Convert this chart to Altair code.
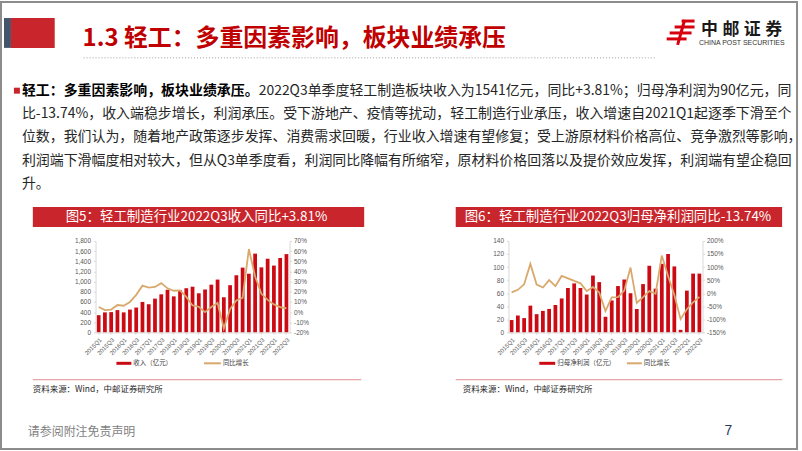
import altair as alt
import pandas as pd

# ---------------- data ----------------
quarters = ["2015Q1", "2015Q2", "2015Q3", "2015Q4", "2016Q1", "2016Q2", "2016Q3", "2016Q4",
            "2017Q1", "2017Q2", "2017Q3", "2017Q4", "2018Q1", "2018Q2", "2018Q3", "2018Q4",
            "2019Q1", "2019Q2", "2019Q3", "2019Q4", "2020Q1", "2020Q2", "2020Q3", "2020Q4",
            "2021Q1", "2021Q2", "2021Q3", "2021Q4", "2022Q1", "2022Q2", "2022Q3"]
tick_quarters = ["2015Q1", "2015Q3", "2016Q1", "2016Q3", "2017Q1", "2017Q3", "2018Q1", "2018Q3",
                 "2019Q1", "2019Q3", "2020Q1", "2020Q3", "2021Q1", "2021Q3", "2022Q1", "2022Q3"]
revenue = [340, 395, 400, 440, 395, 450, 490, 600, 555, 665, 750, 840, 710, 830, 870, 900,
           770, 845, 940, 1040, 690, 930, 1125, 1275, 1155, 1550, 1280, 1450, 1315, 1465, 1541]
revenue_yoy = [5, 2, 2.5, 7, 6.3, 10, 17, 26, 24, 24.7, 28.5, 23.4, 21, 21.4, 15, 6.6,
               5.3, 0, 5, 9, -16, 3, 11.5, 14, 62, 35, 18, 12, 7.6, 5, 3.81]
profit = [19, 26, 22, 41, 28, 33, 36, 42, 52, 68, 75, 68, 58, 87, 77, 24,
          49, 71, 81, 60, 36, 74, 102, 67, 105, 120, 101, 4, 64, 90, 90]
profit_yoy = [3, 13, 34, 112, 33, 22, 50, 27, 66, 57, 47, 38, 8, 24, 3, -68,
              -16, -15, 10, 98, -37, -15, 8, -2, 144, 66, -7, -99, -61, -35, -13.74]
rev_ticks = [0, 200, 400, 600, 800, 1000, 1200, 1400, 1600, 1800]
rev_yoy_ticks = [-20, -10, 0, 10, 20, 30, 40, 50, 60, 70]
profit_ticks = [0, 20, 40, 60, 80, 100, 120, 140]
profit_yoy_ticks = [-150, -100, -50, 0, 50, 100, 150, 200]

slide_title = "1.3 轻工：多重因素影响，板块业绩承压"
para_bold = "轻工：多重因素影响，板块业绩承压。"
para_lines = [
    "2022Q3单季度轻工制造板块收入为1541亿元，同比+3.81%；归母净利润为90亿元，同",
    "比-13.74%，收入端稳步增长，利润承压。受下游地产、疫情等扰动，轻工制造行业承压，收入增速自2021Q1起逐季下滑至个",
    "位数，我们认为，随着地产政策逐步发挥、消费需求回暖，行业收入增速有望修复；受上游原材料价格高位、竞争激烈等影响，",
    "利润端下滑幅度相对较大，但从Q3单季度看，利润同比降幅有所缩窄，原材料价格回落以及提价效应发挥，利润端有望企稳回",
    "升。",
]
fig5_title = "图5：轻工制造行业2022Q3收入同比+3.81%"
fig6_title = "图6：轻工制造行业2022Q3归母净利润同比-13.74%"
source = "资料来源：Wind，中邮证券研究所"

# ---------------- styling / layout ----------------
CJK = "Noto Sans CJK SC"
LAT = "Liberation Sans"
RED = "#CC0A14"
TAN = "#D9A86C"
BAR_RED = "#C8262C"
OX, OY = 96, 241        # slide position of chart-5 plot origin
PW, PH = 195, 92
GAP = 220

one = pd.DataFrame({"k": [0]})


def rect(x1, y1, x2, y2, **kw):
    return alt.Chart(one).mark_rect(**kw).encode(
        x=alt.value(x1 - OX), x2=alt.value(x2 - OX),
        y=alt.value(y1 - OY), y2=alt.value(y2 - OY))


def rule(x1, y1, x2, y2, color, width=1.0, dash=None):
    kw = dict(color=color, strokeWidth=width)
    if dash:
        kw["strokeDash"] = dash
    return alt.Chart(one).mark_rule(**kw).encode(
        x=alt.value(x1 - OX), y=alt.value(y1 - OY),
        x2=alt.value(x2 - OX), y2=alt.value(y2 - OY))


def text(x, y, s, size, color, weight="normal", font=CJK, align="left", baseline="middle"):
    return alt.Chart(one).mark_text(
        text=s, fontSize=size, color=color, fontWeight=weight, font=font,
        align=align, baseline=baseline).encode(x=alt.value(x - OX), y=alt.value(y - OY))


AX = dict(grid=False, labelColor="#595959", labelFont=LAT, domainColor="#D9D9D9",
          tickColor="#D9D9D9", tickSize=2, zindex=2)


def panel(values, growth, vticks, vfmt, gticks):
    df = pd.DataFrame({"q": quarters, "v": values, "g": growth})
    xenc = alt.X("q:N", sort=quarters, title=None,
                 scale=alt.Scale(paddingInner=0.4, paddingOuter=0.2),
                 axis=alt.Axis(values=tick_quarters, labelAngle=-45, labelFontSize=6,
                               labelPadding=2, **AX))
    bars = alt.Chart(df).mark_bar(color=RED).encode(
        x=xenc,
        y=alt.Y("v:Q", title=None,
                scale=alt.Scale(domain=[vticks[0], vticks[-1]], nice=False),
                axis=alt.Axis(values=vticks, format=vfmt, orient="left",
                              labelFontSize=6.5, labelPadding=3, **AX)))
    line = alt.Chart(df).mark_line(color=TAN, strokeWidth=1.8).encode(
        x=xenc,
        y=alt.Y("g:Q", title=None,
                scale=alt.Scale(domain=[gticks[0], gticks[-1]], nice=False, zero=False),
                axis=alt.Axis(values=gticks, labelExpr="datum.value + '%'", orient="right",
                              labelFontSize=6.5, labelPadding=2, **AX)))
    return bars, line


bars5, line5 = panel(revenue, revenue_yoy, rev_ticks, ",.0f", rev_yoy_ticks)
bars6, line6 = panel(profit, profit_yoy, profit_ticks, "d", profit_yoy_ticks)

deco = [
    rect(0, 0, 802, 451, fill="white"),
    rect(1, 1, 801, 450, fillOpacity=0, stroke="#8C8C8C", strokeWidth=2),
    # header
    rect(4, 17, 11, 47, fill="#44546A"),
    rect(11, 17, 55, 47, fill=BAR_RED),
    text(83, 38, slide_title, 24, "#C00000", weight="bold"),
    rule(84, 57, 660, 57, "#A0A0A0", 1, [1, 2]),
    # logo
    rule(685, 20, 698, 20, "#D7000F", 3),
    rule(678, 26, 698, 26, "#D7000F", 3),
    rule(673, 32, 695, 32, "#D7000F", 3),
    rule(670, 38, 690, 38, "#D7000F", 3),
    rule(688, 19, 681, 44, "#D7000F", 3),
    text(713, 29, "中", 17, "#1A1A1A", weight="bold", align="center"),
    text(734.5, 29, "邮", 17, "#1A1A1A", weight="bold", align="center"),
    text(756, 29, "证", 17, "#1A1A1A", weight="bold", align="center"),
    text(777.5, 29, "券", 17, "#1A1A1A", weight="bold", align="center"),
    text(745.5, 42, "CHINA POST SECURITIES", 7, "#333333", font=LAT, align="center"),
    # paragraph
    rect(14, 87, 20, 93, fill=BAR_RED),
    text(22, 90, para_bold, 14, "#000000", weight="bold"),
    text(260, 90, para_lines[0], 14, "#262626"),
    text(22, 113.5, para_lines[1], 14, "#262626"),
    text(22, 137, para_lines[2], 14, "#262626"),
    text(22, 160.5, para_lines[3], 14, "#262626"),
    text(22, 184, para_lines[4], 14, "#262626"),
    # figure 5 frame
    rect(33, 207, 366, 227, fill=BAR_RED),
    text(66, 217, fig5_title, 13.5, "white"),
    rect(117, 362.5, 132, 365.5, fill=RED),
    text(134, 364, "收入（亿元）", 6.5, "#404040"),
    rule(205, 364, 222, 364, TAN, 2),
    text(224, 364, "同比增长", 6.5, "#404040"),
    rule(33, 380.5, 363, 380.5, "#E08A8A", 1),
    text(33, 390, source, 8.5, "#262626"),
    # figure 6 frame
    rect(458, 207, 786, 227, fill=BAR_RED),
    text(467, 217, fig6_title, 13.5, "white"),
    rect(542, 362.5, 558, 365.5, fill=RED),
    text(560, 364, "归母净利润（亿元）", 6.5, "#404040"),
    rule(630, 364, 645, 364, TAN, 2),
    text(647, 364, "同比增长", 6.5, "#404040"),
    rule(458, 380.5, 786, 380.5, "#E08A8A", 1),
    text(465, 390, source, 8.5, "#262626"),
    # footer
    text(28, 433, "请参阅附注免责声明", 12, "#7F7F7F"),
    text(732, 432, "7", 14, "#1F3864", font=LAT, align="center"),
]

c5 = alt.layer(*deco, bars5, line5).resolve_scale(y="independent").properties(width=PW, height=PH)
c6 = alt.layer(bars6, line6).resolve_scale(y="independent").properties(width=PW, height=PH)

chart = alt.hconcat(c5, c6, spacing=GAP, bounds="flush", padding=0).configure_view(stroke=None)

chart.save("out.html", embed_options={"renderer": "svg", "actions": False})
